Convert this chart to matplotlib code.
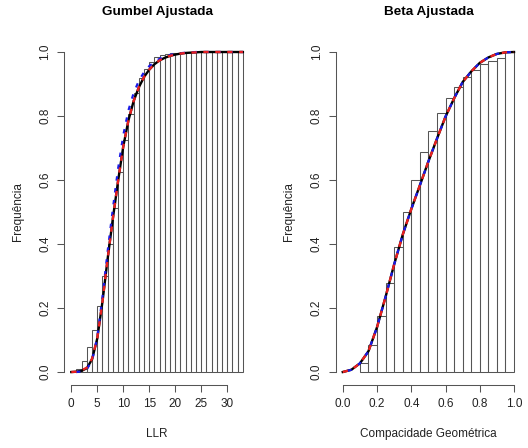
import matplotlib
matplotlib.use('Agg')
import matplotlib.pyplot as plt

plt.rcParams['font.family'] = ['Liberation Sans', 'DejaVu Sans']
plt.rcParams['lines.scale_dashes'] = False

# ---- Gumbel panel (LLR) ----
llr_edges = list(range(1, 34))
llr_cum = [0.008, 0.035, 0.077, 0.13, 0.205, 0.30, 0.40, 0.513, 0.624, 0.725,
           0.806, 0.871, 0.918, 0.947, 0.97, 0.985, 0.99, 0.994, 0.996, 0.998,
           0.999, 1.0, 1.0, 1.0, 1.0, 1.0, 1.0, 1.0, 1.0, 1.0, 1.0, 1.0]
llr_x = list(range(0, 34))
gumbel_black = [0.0, 0.001, 0.004, 0.012, 0.04, 0.105, 0.22, 0.355, 0.48, 0.597,
                0.705, 0.787, 0.847, 0.89, 0.922, 0.945, 0.962, 0.974, 0.982, 0.988,
                0.992, 0.995, 0.997, 0.998, 0.999, 1.0, 1.0, 1.0, 1.0, 1.0,
                1.0, 1.0, 1.0, 1.0]
gumbel_red = [0.0, 0.001, 0.005, 0.014, 0.042, 0.106, 0.22, 0.355, 0.48, 0.597,
              0.705, 0.787, 0.847, 0.89, 0.922, 0.945, 0.962, 0.974, 0.982, 0.988,
              0.992, 0.995, 0.997, 0.998, 0.999, 1.0, 1.0, 1.0, 1.0, 1.0,
              1.0, 1.0, 1.0, 1.0]
gumbel_blue = [0.0, 0.0, 0.002, 0.009, 0.036, 0.108, 0.235, 0.378, 0.51, 0.635,
               0.74, 0.818, 0.872, 0.91, 0.937, 0.956, 0.969, 0.979, 0.986, 0.991,
               0.994, 0.996, 0.998, 0.999, 1.0, 1.0, 1.0, 1.0, 1.0, 1.0,
               1.0, 1.0, 1.0, 1.0]
llr_ticks = [0, 5, 10, 15, 20, 25, 30]

# ---- Beta panel (compacidade) ----
comp_edges = [0.10, 0.15, 0.20, 0.25, 0.30, 0.35, 0.40, 0.45, 0.50, 0.55,
              0.60, 0.65, 0.70, 0.75, 0.80, 0.85, 0.90, 0.95, 1.00]
comp_cum = [0.028, 0.083, 0.174, 0.277, 0.39, 0.50, 0.60, 0.687, 0.753, 0.808,
            0.855, 0.891, 0.921, 0.945, 0.962, 0.973, 0.981, 1.0]
comp_x = [0.0, 0.05, 0.10, 0.15, 0.20, 0.25, 0.30, 0.35, 0.40, 0.45, 0.50,
          0.55, 0.60, 0.65, 0.70, 0.75, 0.80, 0.85, 0.90, 0.95, 1.0]
beta_black = [0.0, 0.007, 0.027, 0.065, 0.14, 0.235, 0.336, 0.429, 0.509, 0.583,
              0.658, 0.729, 0.798, 0.855, 0.906, 0.939, 0.966, 0.983, 0.994,
              0.999, 1.0]
beta_red = beta_black
beta_blue = beta_black
comp_ticks = [0.0, 0.2, 0.4, 0.6, 0.8, 1.0]

y_ticks = [0.0, 0.2, 0.4, 0.6, 0.8, 1.0]

fig = plt.figure(figsize=(5.28, 4.48), dpi=100)
ax1 = fig.add_axes([0.122, 0.141, 0.351, 0.7715])
ax2 = fig.add_axes([0.6362, 0.141, 0.3503, 0.7715])


def draw_panel(ax, edges, cum, xs, black, red, blue, xticks, xlim, title, xlabel, fmt):
    widths = [edges[i + 1] - edges[i] for i in range(len(cum))]
    ax.bar(edges[:-1], cum, width=widths, align='edge', fill=False,
           edgecolor='#555555', linewidth=0.75)
    ax.plot(xs, black, color='black', lw=1.7)
    ax.plot(xs, blue, color='#1a1ae6', lw=1.6, linestyle=(5.2, (3.2, 5.4)))
    ax.plot(xs, red, color='#e82020', lw=1.7, linestyle=(0, (3.8, 4.8)))
    ax.set_xlim(*xlim)
    ax.set_ylim(-0.04, 1.04)
    for s in ['top', 'right']:
        ax.spines[s].set_visible(False)
    ax.spines['left'].set_bounds(0, 1)
    ax.spines['bottom'].set_bounds(xticks[0], xticks[-1])
    for s in ['left', 'bottom']:
        ax.spines[s].set_color('#555555')
        ax.spines[s].set_linewidth(0.75)
    ax.set_xticks(xticks)
    ax.set_xticklabels([fmt(t) for t in xticks])
    ax.set_yticks(y_ticks)
    ax.set_yticklabels(['%.1f' % t for t in y_ticks], rotation=90, va='center')
    ax.tick_params(length=5, width=0.75, color='#555555', labelsize=8.5, pad=4.5,
                   labelcolor='#222222')
    ax.set_xlabel(xlabel, fontsize=8.5, color='#222222')
    ax.set_ylabel('Frequência', fontsize=8.5, color='#222222')
    ax.xaxis.set_label_coords(0.5, -0.142)
    ax.xaxis.label.set_va('center')
    ax.yaxis.set_label_coords(-0.251, 0.5)
    ax.yaxis.label.set_va('center')
    ax.text(0.5, 1.0 + 27.2 / 345.6, title, transform=ax.transAxes,
            ha='center', va='center', fontsize=9.7, fontweight='bold')


draw_panel(ax1, llr_edges, llr_cum, llr_x, gumbel_black, gumbel_red, gumbel_blue,
           llr_ticks, (-1.32, 34.32), 'Gumbel Ajustada', 'LLR', lambda t: '%d' % t)
draw_panel(ax2, comp_edges, comp_cum, comp_x, beta_black, beta_red, beta_blue,
           comp_ticks, (-0.04, 1.04), 'Beta Ajustada', 'Compacidade Geométrica',
           lambda t: '%.1f' % t)

fig.savefig('out.png', dpi=100)
